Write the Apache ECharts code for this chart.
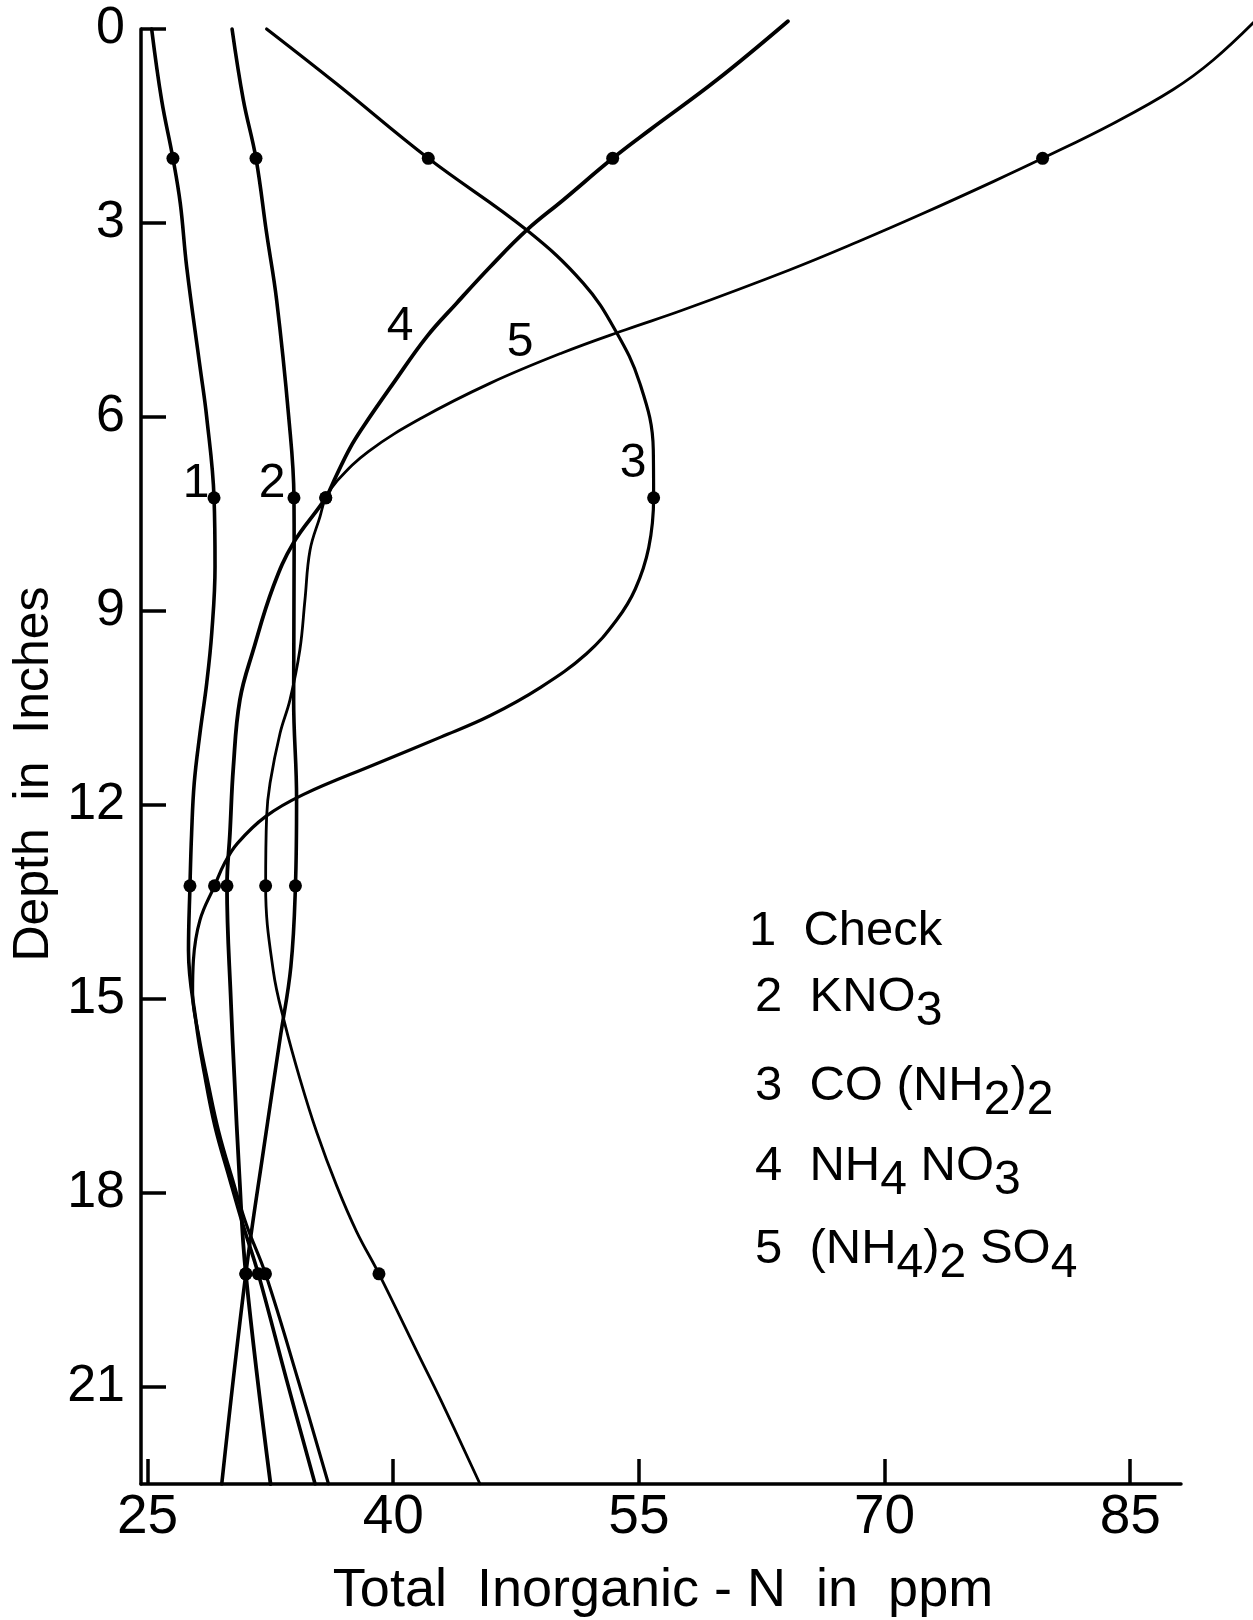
<!DOCTYPE html>
<html><head><meta charset="utf-8">
<script src="https://cdn.jsdelivr.net/npm/echarts@6/dist/echarts.min.js"></script>
<style>html,body{margin:0;padding:0;background:#fff}#chart{width:1253px;height:1620px}</style>
</head><body><div id="chart"></div>
<script>
// ---- data ----
const depthTicks = [0, 3, 6, 9, 12, 15, 18, 21];
const ppmTicks = [25, 40, 55, 70, 85];
const sampleDepths = [2, 7.25, 13.25, 19.25];

// sampled values (ppm) at sampleDepths
const checkPts   = [26.55, 29.06, 27.59, 31.76];
const kno3Pts    = [31.62, 33.94, 34.03, 31.0];
const ureaPts    = [42.14, 55.9, 29.09, 32.2];
const nh4no3Pts  = [53.4, 35.88, 29.85, 31.0];
const sulfatePts = [79.65, 35.88, 32.21, 39.13];

// hand-drawn curves: [ppm, depth]
const checkCurve = [[25.25,0],[25.86,1.1],[26.55,2],[27.0,2.7],[27.39,3.68],[28.2,5.22],[28.61,6.0],[29.06,7.25],[29.12,8.31],[28.92,9.34],[28.61,10.12],[28.2,10.89],[27.85,11.66],[27.69,12.44],[27.59,13.25],[27.5,14.25],[27.97,15.37],[28.48,16.16],[29.11,16.96],[29.99,17.76],[30.81,18.48],[31.76,19.25],[33.5,20.9],[35.23,22.5]];
const kno3Curve = [[30.16,0],[30.85,1.1],[31.62,2],[32.27,3.16],[32.88,4.19],[33.62,6.0],[33.94,7.25],[33.95,8.06],[33.92,10.37],[34.1,11.92],[34.03,13.25],[33.75,14.5],[33.1,15.6],[32.1,17.3],[31.0,19.25],[29.53,22.5]];
const ureaCurve = [[32.27,0],[36.5,0.84],[42.14,2],[48.15,3.11],[51.6,3.93],[53.54,4.65],[55.06,5.48],[55.88,6.51],[55.9,7.25],[55.6,8.02],[54.78,8.66],[53.64,9.14],[51.8,9.66],[49.0,10.18],[45.9,10.62],[42.9,10.95],[38.9,11.37],[34.5,11.84],[32.2,12.18],[30.5,12.59],[29.7,12.9],[29.09,13.25],[28.2,13.78],[27.8,14.4],[27.75,14.9],[28.15,15.6],[28.7,16.3],[29.35,17.05],[30.2,17.8],[31.05,18.5],[32.2,19.25],[34.2,20.9],[36.05,22.5]];
const nh4no3Curve = [[64.1,-0.12],[59.75,0.79],[55.67,1.56],[53.4,2],[50.4,2.64],[48.15,3.11],[45.91,3.68],[43.87,4.24],[42.04,4.76],[40.0,5.48],[38.17,6.15],[37.36,6.48],[36.5,6.92],[35.88,7.25],[33.9,7.95],[32.68,8.62],[31.46,9.6],[30.64,10.37],[30.24,11.41],[30.03,12.44],[29.85,13.25],[30.1,15.1],[30.3,16.2],[30.6,17.7],[31.0,19.25],[32.51,22.5]];
const sulfateCurve = [[93.0,-0.22],[90.07,0.48],[87.6,0.94],[83.96,1.46],[79.65,2],[76.63,2.36],[72.37,2.85],[68.37,3.29],[64.15,3.73],[57.64,4.35],[54.19,4.65],[50.3,5.01],[45.9,5.48],[41.7,6.02],[38.5,6.53],[36.6,6.98],[35.88,7.25],[35.53,7.54],[34.92,8.06],[34.61,8.83],[34.3,9.6],[33.7,10.37],[33.09,10.89],[32.48,11.66],[32.27,12.18],[32.21,13.25],[32.68,14.57],[33.4,15.4],[34.3,16.23],[35.33,17.06],[36.55,17.89],[37.77,18.6],[39.13,19.25],[41.6,20.53],[42.9,21.2],[45.3,22.5]];

const FONT = 'Liberation Sans';
const INK = '#000';

// plot geometry: visible axes grid and a slightly larger, hidden-axis drawing grid with the same scale
const X_MIN = 24.6, X_MAX = 88.1, Y_MAX = 22.5;
const G = { left: 141, right: 72, top: 29, bottom: 136 };
const W = 1253, H = 1620;
const pxPerX = (W - G.left - G.right) / (X_MAX - X_MIN);
const pxPerY = (H - G.top - G.bottom) / Y_MAX;
const G2 = { left: G.left, right: -20, top: 9, bottom: G.bottom };
const X2_MAX = X_MIN + (W - G2.left - G2.right) / pxPerX;
const Y2_MIN = -(G.top - G2.top) / pxPerY;

function curveSeries(name, data, width) {
  return { name, type: 'line', xAxisIndex: 1, yAxisIndex: 1, data, smooth: 0.4, symbol: 'none',
    lineStyle: { color: INK, width, cap: 'round', join: 'round' }, z: 3 };
}
function dotSeries(name, vals) {
  return { name: name + ' pts', type: 'scatter', xAxisIndex: 1, yAxisIndex: 1,
    data: vals.map((v, i) => [v, sampleDepths[i]]),
    symbol: 'circle', symbolSize: 13, itemStyle: { color: '#000', opacity: 1 }, z: 5 };
}

const sub = { fontSize: 48, fontFamily: FONT, color: INK, padding: [15, 0, 0, 0], verticalAlign: 'top' };
const main = { fontSize: 49, fontFamily: FONT, color: INK, verticalAlign: 'top' };
function legendText(text, left, top) {
  return { type: 'text', left, top, z: 10,
    style: { text, rich: { t: main, s: sub }, fill: INK } };
}
function numLabel(t, x, y) {
  return { type: 'text', x, y, z: 10,
    style: { text: t, font: '48px "' + FONT + '"', fill: INK, align: 'center', verticalAlign: 'middle' } };
}

const option = {
  animation: false,
  backgroundColor: '#fff',
  grid: [
    { left: G.left, right: G.right, top: G.top, bottom: G.bottom, containLabel: false, outerBoundsMode: 'none' },
    { left: G2.left, right: G2.right, top: G2.top, bottom: G2.bottom, containLabel: false, outerBoundsMode: 'none', show: false }
  ],
  xAxis: [{
    type: 'value', gridIndex: 0, min: X_MIN, max: X_MAX,
    axisLine: { onZero: false, lineStyle: { color: INK, width: 3.5 } },
    axisTick: { inside: true, length: 25, customValues: ppmTicks, lineStyle: { color: INK, width: 3.5 } },
    axisLabel: { customValues: ppmTicks, fontSize: 55, fontFamily: FONT, color: INK, margin: 6 },
    splitLine: { show: false }
  }, {
    type: 'value', gridIndex: 1, min: X_MIN, max: X2_MAX, show: false, splitLine: { show: false }
  }],
  yAxis: [{
    type: 'value', gridIndex: 0, inverse: true, min: 0, max: Y_MAX,
    axisLine: { onZero: false, lineStyle: { color: INK, width: 3.5 } },
    axisTick: { inside: true, length: 25, customValues: depthTicks, lineStyle: { color: INK, width: 3.5 } },
    axisLabel: { customValues: depthTicks, fontSize: 52, fontFamily: FONT, color: INK, margin: 16 },
    splitLine: { show: false }
  }, {
    type: 'value', gridIndex: 1, inverse: true, min: Y2_MIN, max: Y_MAX, show: false, splitLine: { show: false }
  }],
  series: [
    curveSeries('1 Check', checkCurve, 3.6),
    curveSeries('2 KNO3', kno3Curve, 3.6),
    curveSeries('3 CO(NH2)2', ureaCurve, 3.2),
    curveSeries('4 NH4NO3', nh4no3Curve, 3.8),
    curveSeries('5 (NH4)2SO4', sulfateCurve, 2.8),
    dotSeries('1', checkPts), dotSeries('2', kno3Pts), dotSeries('3', ureaPts),
    dotSeries('4', nh4no3Pts), dotSeries('5', sulfatePts)
  ],
  graphic: [
    { type: 'text', x: 34, y: 774, rotation: Math.PI / 2, z: 10,
      style: { text: 'Depth  in  Inches', font: '50px "' + FONT + '"', fill: INK, align: 'center', verticalAlign: 'middle' } },
    { type: 'text', x: 663, y: 1591, z: 10,
      style: { text: 'Total  Inorganic - N  in  ppm', font: '54px "' + FONT + '"', fill: INK, align: 'center', verticalAlign: 'middle' } },
    numLabel('1', 196, 484), numLabel('2', 272, 484), numLabel('3', 633, 464),
    numLabel('4', 400, 327), numLabel('5', 520, 343),
    legendText('{t|1  Check}', 749, 907),
    legendText('{t|2  KNO}{s|3}', 755, 973),
    legendText('{t|3  CO (NH}{s|2}{t|)}{s|2}', 755, 1062),
    legendText('{t|4  NH}{s|4}{t| NO}{s|3}', 755, 1142),
    legendText('{t|5  (NH}{s|4}{t|)}{s|2}{t| SO}{s|4}', 755, 1225)
  ]
};

const chart = echarts.init(document.getElementById('chart'), null, { renderer: 'canvas' });
chart.setOption(option);
</script></body></html>
